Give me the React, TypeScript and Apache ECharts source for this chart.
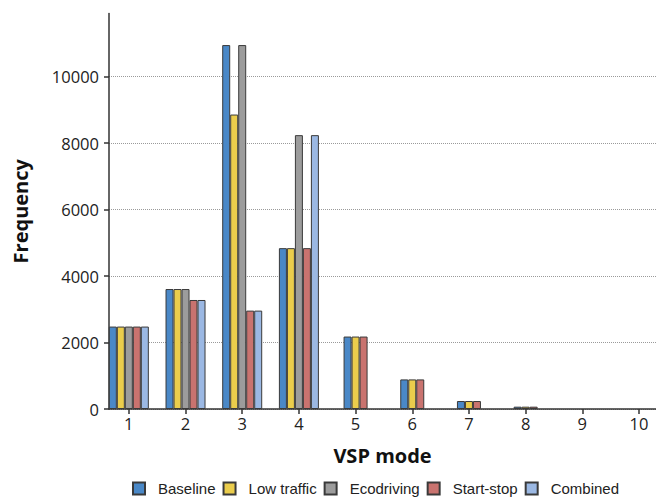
import React, { useEffect, useRef } from "react";
import * as echarts from "echarts";

const modes = [1, 2, 3, 4, 5, 6, 7, 8, 9, 10];
const baseline = [2480, 3610, 10950, 4840, 2180, 890, 240, 70, 0, 0];
const lowTraffic = [2480, 3610, 8860, 4840, 2180, 890, 240, 70, 0, 0];
const ecodriving = [2480, 3610, 10950, 8240];
const startStop = [2480, 3280, 2960, 4840, 2180, 890, 240, 70, 0, 0];
const combined = [2480, 3280, 2960, 8240];
const yTicks = [0, 2000, 4000, 6000, 8000, 10000];
const seriesNames = ["Baseline", "Low traffic", "Ecodriving", "Start-stop", "Combined"];
const seriesColors = ["#4a88c7", "#ebcd4c", "#9c9c9c", "#c9736f", "#9bb8e3"];

const X_MIN = 0.65;
const X_MAX = 10.3;
const Y_MAX = 11900;

function pairs(values: number[], from: number, to: number) {
  const out: [number, number][] = [];
  for (let i = from; i < Math.min(to, values.length); i++) {
    if (values[i] > 0) out.push([modes[i], values[i]]);
  }
  return out;
}

export default function App() {
  const ref = useRef<HTMLDivElement>(null);
  useEffect(() => {
    if (!ref.current) return;
    const chart = echarts.init(ref.current, undefined, { renderer: "svg" });
    const allValues = [baseline, lowTraffic, ecodriving, startStop, combined];
    const barStyle = (i: number) => ({
      color: seriesColors[i],
      borderColor: "#3a3a3a",
      borderWidth: 1,
    });
    const groupA = allValues.map((vals, i) => ({
      name: seriesNames[i],
      type: "bar",
      xAxisIndex: 0,
      yAxisIndex: 0,
      barWidth: 8,
      barGap: "0%",
      itemStyle: barStyle(i),
      data: pairs(vals, 0, 4),
    }));
    const groupBIdx = [0, 1, 3];
    const groupB = groupBIdx.map((i) => ({
      name: seriesNames[i],
      type: "bar",
      xAxisIndex: 1,
      yAxisIndex: 0,
      barWidth: 8,
      barGap: "0%",
      itemStyle: barStyle(i),
      data: pairs(allValues[i], 4, 10),
    }));
    chart.setOption({
      animation: false,
      backgroundColor: "#ffffff",
      grid: { left: 109, top: 13.5, width: 550, height: 395.5 },
      legend: {
        data: seriesNames,
        left: 132,
        top: 481,
        padding: 0,
        icon: "rect",
        itemWidth: 12,
        itemHeight: 12,
        itemGap: 7,
        textStyle: {
          fontFamily: "Liberation Sans",
          fontSize: 15,
          color: "#222",
          padding: [0, 0, 0, 8],
        },
      },
      xAxis: [
        {
          type: "value",
          min: X_MIN,
          max: X_MAX,
          name: "VSP mode",
          nameLocation: "middle",
          nameGap: 36,
          nameTextStyle: { fontFamily: "Open Sans", fontWeight: "bold", fontSize: 20, color: "#111" },
          axisLine: { show: true, lineStyle: { color: "#333", width: 1.5 } },
          axisTick: { show: true, length: 5, lineStyle: { color: "#333", width: 1.5 }, customValues: modes },
          axisLabel: {
            customValues: modes,
            fontFamily: "Open Sans",
            fontSize: 16.5,
            color: "#222",
            margin: 6,
          },
          splitLine: { show: false },
        },
        {
          type: "value",
          min: X_MIN,
          max: X_MAX,
          show: false,
          splitLine: { show: false },
        },
      ],
      yAxis: {
        type: "value",
        min: 0,
        max: Y_MAX,
        name: "Frequency",
        nameLocation: "middle",
        nameGap: 79,
        nameTextStyle: { fontFamily: "Open Sans", fontWeight: "bold", fontSize: 20, color: "#111" },
        axisLine: { show: true, lineStyle: { color: "#333", width: 1.5 } },
        axisTick: { show: true, length: 5, lineStyle: { color: "#333", width: 1.5 }, customValues: yTicks },
        axisLabel: {
          customValues: yTicks,
          formatter: (v: number) => String(v),
          fontFamily: "Open Sans",
          fontSize: 16.5,
          color: "#222",
          margin: 10,
        },
        splitLine: { show: true, lineStyle: { color: "#9a9a9a", type: "dotted", width: 1 } },
      },
      series: [...groupA, ...groupB],
    });
    return () => chart.dispose();
  }, []);
  return <div ref={ref} style={{ width: 656, height: 497, position: "absolute", left: 0, top: 0 }} />;
}
